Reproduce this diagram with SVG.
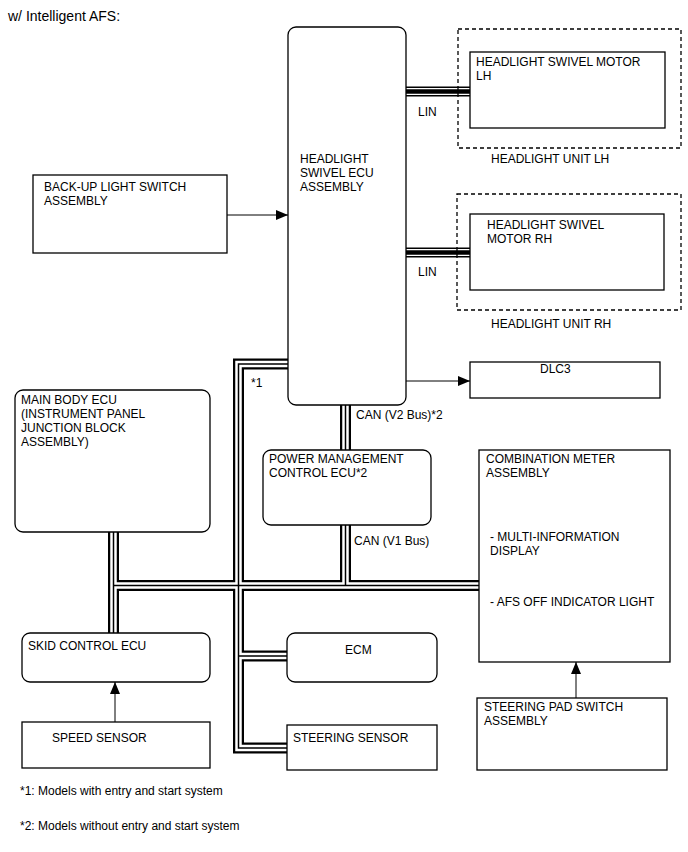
<svg xmlns="http://www.w3.org/2000/svg" width="688" height="852" viewBox="0 0 688 852">
<style>
text{font-family:"Liberation Sans",Arial,sans-serif;font-size:12px;fill:#000}
.box{fill:#fff;stroke:#000;stroke-width:1.3}
.dash{fill:none;stroke:#000;stroke-width:1.3;stroke-dasharray:4 3}
.p1{fill:none;stroke:#000;stroke-width:11}
.p2{fill:none;stroke:#fff;stroke-width:6.5}
.p3{fill:none;stroke:#000;stroke-width:1.5}
.l1{fill:none;stroke:#000;stroke-width:10}
.l2{fill:none;stroke:#fff;stroke-width:7}
.l3{fill:none;stroke:#000;stroke-width:4.5}
.arr{fill:none;stroke:#000;stroke-width:1;marker-end:url(#ah)}
.note{font-size:12px}
</style>
<defs>
<marker id="ah" markerWidth="12" markerHeight="10" refX="12" refY="5" orient="auto" markerUnits="userSpaceOnUse">
<path d="M0,0 L12,5 L0,10 Z" fill="#000"/>
</marker>
</defs>
<rect width="688" height="852" fill="#fff"/>
<text x="8" y="21" style="font-size:14px">w/ Intelligent AFS:</text>

<g id="connectors">
<g id="can">
<path class="p1" d="M288,364 H238.5 V748 H287 M238.5,656 H287 M113.5,532 V633 M113.5,585.5 H479 M345.5,525 V585.5 M345.5,405 V450"/>
<path class="p2" d="M288,364 H238.5 V748 H287 M238.5,656 H287 M113.5,532 V633 M113.5,585.5 H479 M345.5,525 V585.5 M345.5,405 V450"/>
<path class="p3" d="M288,364 H238.5 V748 H287 M238.5,656 H287 M113.5,532 V633 M113.5,585.5 H479 M345.5,525 V585.5 M345.5,405 V450"/>
</g>
<g id="lin">
<path class="l1" d="M406,91.5 H470 M406,252.5 H470"/>
<path class="l2" d="M406,91.5 H470 M406,252.5 H470"/>
<path class="l3" d="M406,91.5 H470 M406,252.5 H470"/>
</g>
<path class="arr" d="M227,215 H288"/>
<path class="arr" d="M406,381 H470"/>
<path class="arr" d="M115,722 V682"/>
<path class="arr" d="M576,698 V662"/>
<text x="418" y="116">LIN</text>
<text x="418" y="276">LIN</text>
<text x="251" y="387">*1</text>
<text x="356" y="419">CAN (V2 Bus)*2</text>
<text x="354" y="545">CAN (V1 Bus)</text>
</g>

<g id="ecu">
<rect class="box" x="288" y="27" width="118" height="378" rx="8"/>
<text x="300" y="163">HEADLIGHT</text>
<text x="300" y="177">SWIVEL ECU</text>
<text x="300" y="191">ASSEMBLY</text>
</g>
<g id="unit-lh">
<rect class="dash" x="458" y="29" width="223" height="119"/>
<text x="491" y="163">HEADLIGHT UNIT LH</text>
</g>
<g id="motor-lh">
<rect class="box" x="470" y="52" width="195" height="76"/>
<text x="476" y="66">HEADLIGHT SWIVEL MOTOR</text>
<text x="476" y="80">LH</text>
</g>
<g id="unit-rh">
<rect class="dash" x="457" y="194" width="224" height="116"/>
<text x="491" y="328">HEADLIGHT UNIT RH</text>
</g>
<g id="motor-rh">
<rect class="box" x="470" y="214" width="194" height="76"/>
<text x="487" y="229">HEADLIGHT SWIVEL</text>
<text x="487" y="243">MOTOR RH</text>
</g>
<g id="backup">
<rect class="box" x="33" y="175" width="194" height="78"/>
<text x="44" y="191">BACK-UP LIGHT SWITCH</text>
<text x="44" y="205">ASSEMBLY</text>
</g>
<g id="dlc3">
<rect class="box" x="470" y="362" width="190" height="36"/>
<text x="540" y="373">DLC3</text>
</g>
<g id="main-body">
<rect class="box" x="15" y="390" width="195" height="142" rx="8"/>
<text x="21" y="404">MAIN BODY ECU</text>
<text x="21" y="418">(INSTRUMENT PANEL</text>
<text x="21" y="432">JUNCTION BLOCK</text>
<text x="21" y="446">ASSEMBLY)</text>
</g>
<g id="power-mgmt">
<rect class="box" x="263" y="450" width="168" height="75" rx="8"/>
<text x="269" y="463">POWER MANAGEMENT</text>
<text x="269" y="477">CONTROL ECU*2</text>
</g>
<g id="combination-meter">
<rect class="box" x="479" y="450" width="191" height="212"/>
<text x="486" y="463">COMBINATION METER</text>
<text x="486" y="477">ASSEMBLY</text>
<text x="490" y="541">- MULTI-INFORMATION</text>
<text x="490" y="555">DISPLAY</text>
<text x="490" y="606">- AFS OFF INDICATOR LIGHT</text>
</g>
<g id="skid">
<rect class="box" x="22" y="633" width="188" height="49" rx="8"/>
<text x="28" y="650">SKID CONTROL ECU</text>
</g>
<g id="speed">
<rect class="box" x="22" y="722" width="188" height="46"/>
<text x="52" y="742">SPEED SENSOR</text>
</g>
<g id="ecm">
<rect class="box" x="287" y="633" width="150" height="49" rx="8"/>
<text x="345" y="654">ECM</text>
</g>
<g id="steering">
<rect class="box" x="287" y="725" width="150" height="45"/>
<text x="293" y="742">STEERING SENSOR</text>
</g>
<g id="steering-pad">
<rect class="box" x="477" y="698" width="190" height="72"/>
<text x="484" y="711">STEERING PAD SWITCH</text>
<text x="484" y="725">ASSEMBLY</text>
</g>
<text class="note" x="20" y="795">*1: Models with entry and start system</text>
<text class="note" x="20" y="830">*2: Models without entry and start system</text>
</svg>
